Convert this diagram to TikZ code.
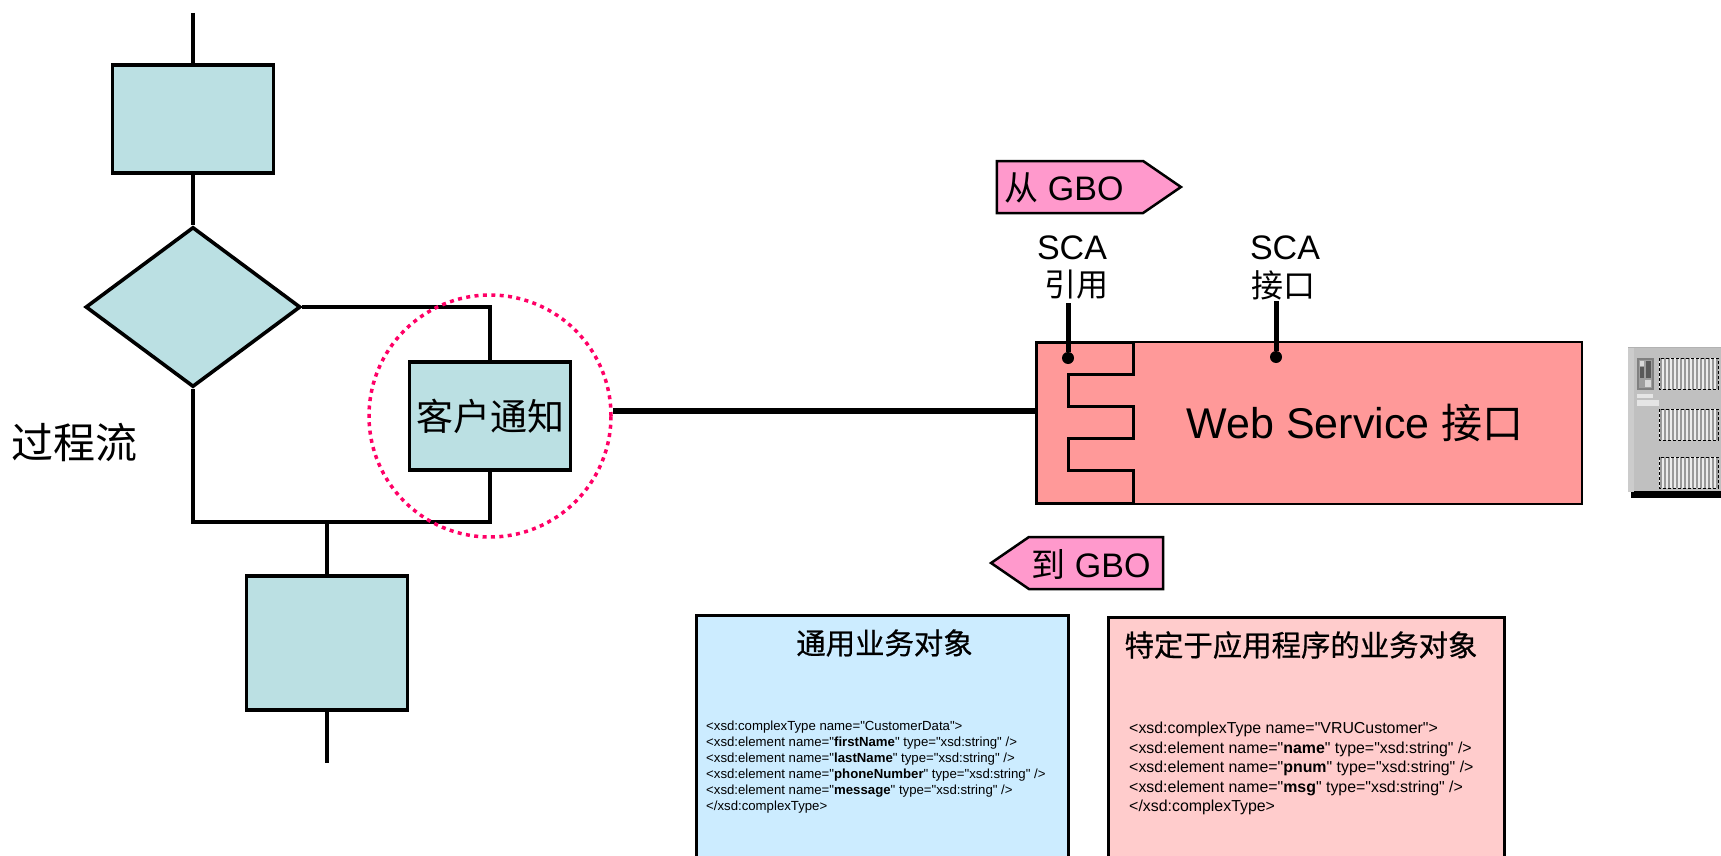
\documentclass[tikz,border=0pt]{standalone}
\usepackage{fontspec}
\setmainfont{Liberation Sans}
\newfontfamily\xsdfont{Liberation Sans}
\newfontfamily\cjk{Noto Sans CJK SC}
\newfontfamily\cjkheavy{Noto Sans CJK SC}[FakeBold=0.6]
\usetikzlibrary{shapes.geometric, shapes.symbols}
\definecolor{flowteal}{HTML}{BBE0E3}
\definecolor{tagpink}{HTML}{FF99CC}
\definecolor{websalmon}{HTML}{FF9999}
\definecolor{genblue}{HTML}{CCECFF}
\definecolor{apppink}{HTML}{FFCCCC}
\definecolor{ringred}{HTML}{FF0066}
\definecolor{servergray}{HTML}{C0C0C0}
\begin{document}
\begin{tikzpicture}[
		x=1pt, y=-1pt, node distance=100pt,
		flowbox/.style={rectangle,draw,fill=flowteal,line width=3.6pt,minimum width=161pt,minimum height=108pt,inner sep=0pt},
		flowgate/.style={diamond,draw,fill=flowteal,line width=3.6pt,aspect=1.34,minimum width=215pt,minimum height=160pt,inner sep=0pt},
		flowline/.style={line width=3.5pt},
		ring/.style={circle,draw=ringred,line width=3.5pt,dash pattern=on 4pt off 4.4pt,minimum size=242pt,inner sep=0pt},
		gbotag/.style={signal,draw,fill=tagpink,line width=2.5pt,inner sep=0pt,minimum height=52pt,signal pointer angle=69},
		bigtext/.style={inner sep=0pt,font=\fontsize{34}{40}\selectfont},
		pinline/.style={line width=5pt},
		pindot/.style={circle,fill=black,minimum size=12pt,inner sep=0pt},
		xsdbox/.style={rectangle,draw,line width=3pt,anchor=north west,inner sep=0pt,outer sep=0pt},
		xsdtitle/.style={inner sep=0pt,font=\cjkheavy\fontsize{29.4}{34}\selectfont},
		xsdtext/.style={anchor=north west,inner sep=0pt,align=left}
		]

		\useasboundingbox (0,0) rectangle (1721,856);

		\node[flowbox](P0) at (193,119){};
		\node[flowgate, below of = P0, yshift = -88pt](G0){};
		\node[flowbox, right of = G0, xshift = 197pt, yshift = -109pt, font=\cjk\fontsize{37}{40}\selectfont](P1){客户通知};
		\node[flowbox, below of = G0, xshift = 134pt, yshift = -236pt, minimum height=134pt](P2){};
		\node[inner sep=0pt, font=\cjk\fontsize{42}{46}\selectfont](flowname) at (75,442){过程流};

		\coordinate (topend) at (193,13);
		\coordinate (bottomend) at (327,763);
		\coordinate (mergeL) at (193,522);
		\coordinate (mergeM) at (327,522);
		\coordinate (mergeR) at (490,522);

		\draw[flowline] (topend) -- (P0);
		\draw[flowline] (P0) -- (G0);
		\draw[flowline] (G0.east) -| (P1.north);
		\draw[flowline] (P1.south) -- (mergeR) -- (mergeL) -- (G0.south);
		\draw[flowline] (mergeM) -- (P2.north);
		\draw[flowline] (P2) -- (bottomend);

		\node[ring, at = (P1)](R0){};

		\node[rectangle, draw, fill=websalmon, line width=2.5pt, outer sep=0pt, minimum width=546pt, minimum height=162pt,
		right of = P1, xshift = 719pt, yshift = -7pt](web){};
		\draw[line width=3pt, fill=websalmon, shift={(web.north west)}] (0,0) -- (97,0) -- (97,32) -- (32,32)
		-- (32,64) -- (97,64) -- (97,96) -- (32,96) -- (32,128) -- (97,128) -- (97,161.5) -- (0,161.5) -- cycle;
		\node[inner sep=0pt, font=\fontsize{43}{48}\selectfont](webname) at (1355,423){Web Service {\cjk\fontsize{41}{48}\selectfont 接口}};

		\coordinate (linestart) at (613,411);
		\draw[line width=6pt] (linestart) -- (linestart -| web.west);

		\node[pindot](pinL) at (1068,358){};
		\node[pindot](pinR) at (1276,357){};
		\coordinate (pinLtop) at (1068,303);
		\coordinate (pinRtop) at (1276,301);
		\draw[pinline] (pinL) -- (pinLtop);
		\draw[pinline] (pinR) -- (pinRtop);

		\node[bigtext](scaL) at (1072,248){SCA};
		\node[bigtext, font=\cjk\fontsize{32}{38}\selectfont](refL) at (1076,285){引用};
		\node[bigtext](scaR) at (1285,248){SCA};
		\node[bigtext, font=\cjk\fontsize{32}{38}\selectfont](refR) at (1283,285){接口};

		\node[gbotag, signal to=east, minimum width=184pt](fromtag) at (1070,187){};
		\node[gbotag, signal to=west, minimum width=172pt](totag) at (1096,563){};
		\node[bigtext](fromtext) at (1064,188){{\cjk 从} GBO};
		\node[bigtext](totext) at (1091,564){{\cjk 到} GBO};

		\node[xsdbox, fill=genblue, minimum width=372pt, minimum height=245pt](generic) at (696,615){};
		\node[xsdbox, fill=apppink, minimum width=396pt, minimum height=243pt](appspec) at (1108,617){};
		\node[xsdtitle](generictitle) at (884.5,643){通用业务对象};
		\node[xsdtitle](appspectitle) at (1301,645){特定于应用程序的业务对象};

		\node[xsdtext, font=\xsdfont\fontsize{13.2}{16}\selectfont](generictext) at (706,721){%
		<xsd:complexType name="CustomerData">\\
		<xsd:element name="\textbf{firstName}" type="xsd:string" />\\
		<xsd:element name="\textbf{lastName}" type="xsd:string" />\\
		<xsd:element name="\textbf{phoneNumber}" type="xsd:string" />\\
		<xsd:element name="\textbf{message}" type="xsd:string" />\\
		</xsd:complexType>};
		\node[xsdtext, font=\xsdfont\fontsize{15.9}{19.5}\selectfont](appspectext) at (1129,722){%
		<xsd:complexType name="VRUCustomer">\\
		<xsd:element name="\textbf{name}" type="xsd:string" />\\
		<xsd:element name="\textbf{pnum}" type="xsd:string" />\\
		<xsd:element name="\textbf{msg}" type="xsd:string" />\\
		</xsd:complexType>};

		\fill[servergray] (1628,347) rectangle (1721,492);
		\fill[black] (1631,491) rectangle (1721,498);
		\fill[gray!40] (1628,347) rectangle (1634,492);
		\draw[gray!60, line width=1pt] (1628,347) -- (1721,347);
		\draw[gray, fill=gray!75, line width=1.5pt] (1638,359) rectangle (1653,389);
		\fill[gray!30] (1640,361) rectangle (1644,366);
		\fill[black!65] (1640,367) rectangle (1644,378);
		\fill[black!65] (1646,361) rectangle (1651,378);
		\fill[gray!30] (1645,380) rectangle (1651,387);
		\fill[gray!20] (1637,394) rectangle (1653,398);
		\fill[gray!20] (1637,400) rectangle (1659,406);
		\foreach \gy in {358,409,457}{
			\fill[gray!15] (1659,\gy) rectangle (1718,\gy+31);
			\foreach \gx in {1661,1665,...,1717}
				\draw[gray!80, line width=1.6pt] (\gx,\gy) -- (\gx,\gy+31);
			\draw[black, line width=0.8pt, densely dashed] (1659,\gy) rectangle (1718,\gy+31);
		}

	\end{tikzpicture}
\end{document}
